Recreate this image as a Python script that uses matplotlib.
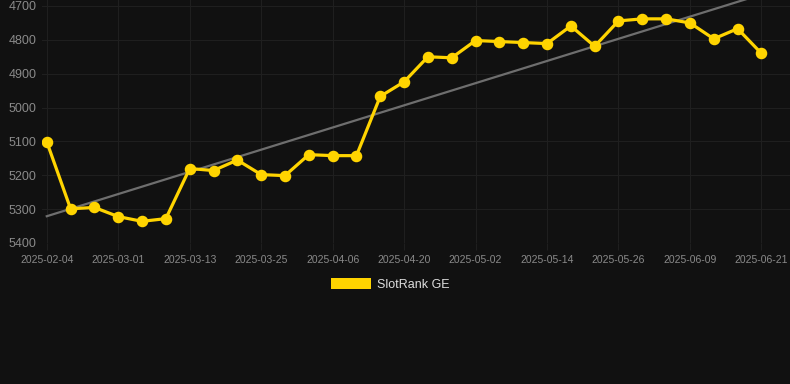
import matplotlib
matplotlib.use("Agg")
import matplotlib.pyplot as plt
from matplotlib.patches import Patch
import numpy as np

dates = ["2025-02-04", "2025-02-12", "2025-02-20", "2025-03-01", "2025-03-05",
         "2025-03-09", "2025-03-13", "2025-03-17", "2025-03-21", "2025-03-25",
         "2025-03-29", "2025-04-02", "2025-04-06", "2025-04-10", "2025-04-15",
         "2025-04-20", "2025-04-24", "2025-04-28", "2025-05-02", "2025-05-06",
         "2025-05-10", "2025-05-14", "2025-05-18", "2025-05-22", "2025-05-26",
         "2025-05-31", "2025-06-04", "2025-06-09", "2025-06-13", "2025-06-17",
         "2025-06-21"]
rank = [5101, 5299, 5295, 5322, 5336, 5328, 5180, 5186, 5155, 5198,
        5201, 5139, 5142, 5142, 4967, 4924, 4850, 4853, 4802, 4805,
        4808, 4811, 4759, 4819, 4744, 4738, 4738, 4750, 4797, 4767,
        4840]
y_ticks = [4700, 4800, 4900, 5000, 5100, 5200, 5300, 5400]
series_label = "SlotRank GE"

BG = "#111111"
GOLD = "#FFD400"
GRID = "#1f1f1f"
TXT = "#8a8a8a"

fig = plt.figure(figsize=(7.9, 3.84), dpi=100, facecolor=BG)
ax = fig.add_axes([42/790, 1 - 243/384, 1 - 42/790, 243/384])
ax.set_facecolor(BG)

x = np.arange(len(rank))
coef = np.polyfit(x, rank, 1)
ax.plot(x, np.polyval(coef, x), color="#6e6e6e", lw=1.6, zorder=2)
ax.plot(x, rank, color=GOLD, lw=2.3, marker="o", ms=7.3, zorder=3)

ax.set_xlim(-0.2, 31.2)
ax.set_ylim(5400, 4682.3)
ax.set_yticks(y_ticks)
ax.set_yticklabels([str(v) for v in y_ticks])
tick_idx = x[::3]
ax.set_xticks(tick_idx)
ax.set_xticklabels([dates[i] for i in tick_idx])

ax.grid(True, color=GRID, lw=0.8)
ax.set_axisbelow(True)
for s in ax.spines.values():
    s.set_visible(False)
ax.tick_params(axis="x", colors=GRID, length=5, width=0.8, pad=3.5, labelcolor=TXT,
               labelsize=7.5)
ax.tick_params(axis="y", length=0, pad=4, labelcolor=TXT, labelsize=9)
for lab in ax.get_xticklabels() + ax.get_yticklabels():
    lab.set_fontfamily("Liberation Sans")

leg = fig.legend(handles=[Patch(facecolor=GOLD, edgecolor="none", label=series_label)],
                 loc="center", bbox_to_anchor=(0.494, 0.26), frameon=False,
                 handlelength=3.2, handleheight=0.95, handletextpad=0.5,
                 prop={"family": "Liberation Sans", "size": 9})
for t in leg.get_texts():
    t.set_color("#dddddd")

fig.savefig("out.png", dpi=100, facecolor=BG)
